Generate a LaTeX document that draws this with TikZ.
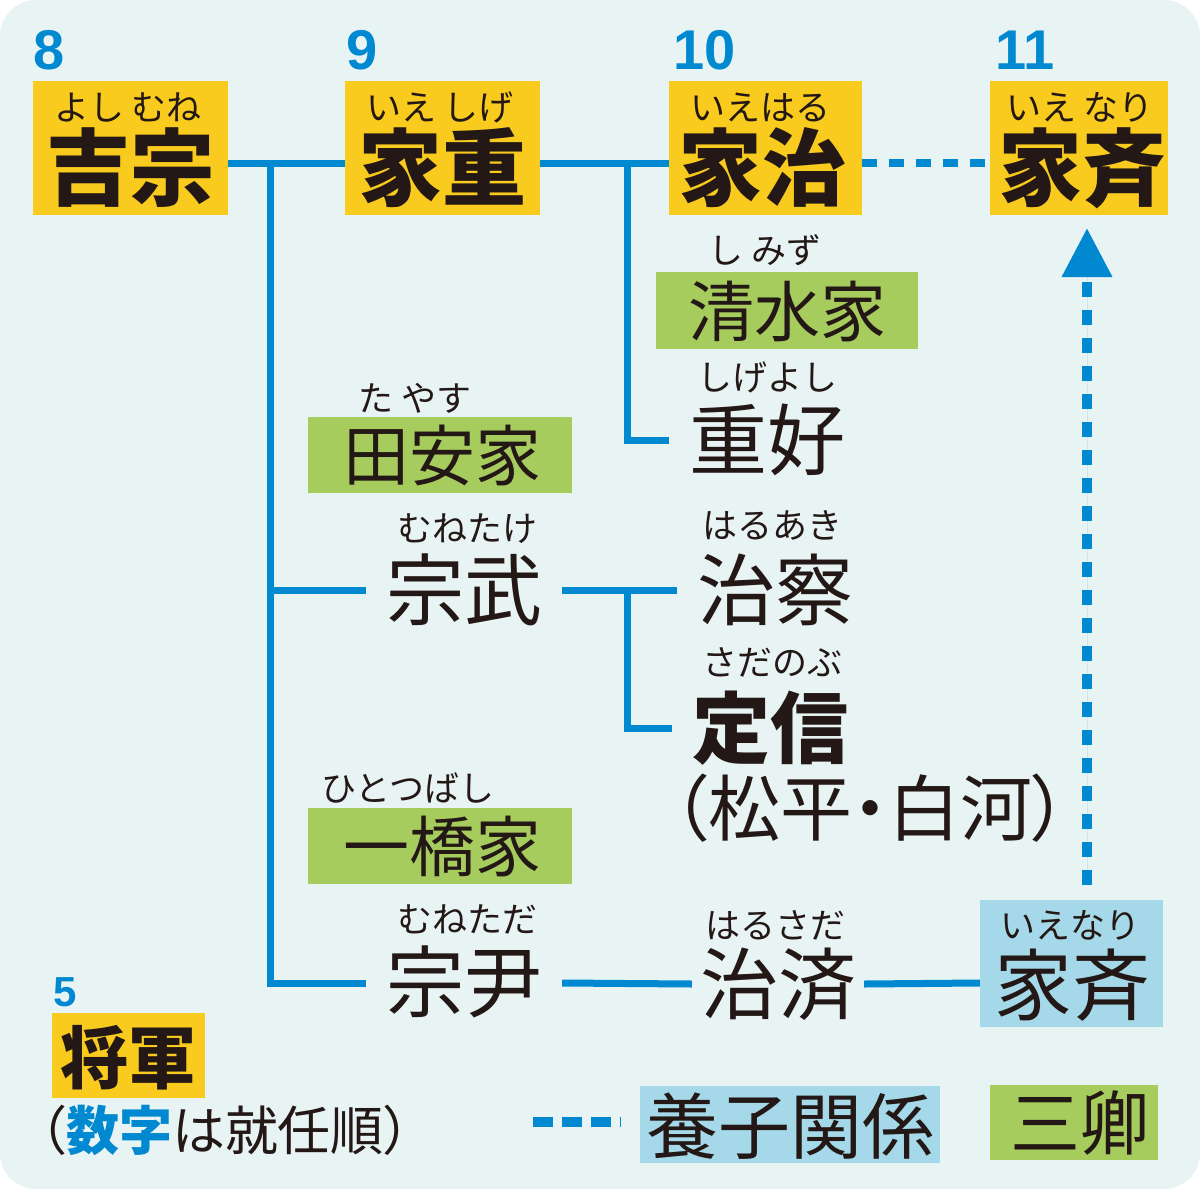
\documentclass[tikz,border=0pt]{standalone}
\usepackage{fontspec}
\usetikzlibrary{arrows.meta}
\newfontfamily\jp{Noto Sans CJK JP}
\newfontfamily\jpp{Noto Sans CJK JP}[RawFeature=+palt]
\newfontfamily\numf{Liberation Sans}
\newcommand\myfs[1]{\fontsize{#1}{#1}\selectfont}
\definecolor{cblue}{HTML}{0089D0}
\definecolor{cyel}{HTML}{F9CB1E}
\definecolor{cgreen}{HTML}{A7CC5E}
\definecolor{clb}{HTML}{A5D9E9}
\definecolor{cbg}{HTML}{E8F4F4}
\definecolor{ink}{HTML}{231815}
\begin{document}
\begin{tikzpicture}[x=1pt,y=-1pt,
  box/.style={inner sep=0pt, draw=none},
  lbl/.style={inner sep=0pt, text=ink},
  ruby/.style={inner sep=0pt, text=ink, font=\jp\myfs{35}},
  big/.style={inner sep=0pt, text=ink, font=\jp\bfseries\myfs{84}},
  nm/.style={inner ysep=0pt, inner xsep=20pt, text=ink, font=\jp\myfs{78}},
  house/.style={inner sep=0pt, text=ink, font=\jp\myfs{66}},
  numl/.style={inner sep=0pt, text=cblue, font=\numf\bfseries\myfs{56}},
  conn/.style={draw=cblue, line width=7pt},
  adopt/.style={draw=cblue, line width=9pt, dash pattern=on 15pt off 12pt}]
\useasboundingbox (0,0) rectangle (1200,1189);
\fill[white] (0,0) rectangle (1200,1189);
\fill[cbg, rounded corners=36pt] (0,0) rectangle (1200,1189);

% shogun boxes
\node[box, fill=cyel, minimum width=195pt, minimum height=134pt] (b-yoshimune) at (130.5,148) {};
\node[box, fill=cyel, minimum width=195pt, minimum height=134pt] (b-ieshige) at (442.5,148) {};
\node[box, fill=cyel, minimum width=193pt, minimum height=134pt] (b-ieharu) at (765.5,148) {};
\node[box, fill=cyel, minimum width=178pt, minimum height=134pt] (b-ienari) at (1079,148) {};

\node[numl] (n8) at (49,50) {8};
\node[numl] (n9) at (362,50) {9};
\node[numl] (n10) at (705,50) {10};
\node[numl] (n11) at (1025,50) {11};

\node[ruby] (r-yoshimune) at (128,107) {よし むね};
\node[ruby] (r-ieshige) at (440,107) {いえ しげ};
\node[ruby] (r-ieharu) at (760,107) {いえはる};
\node[ruby] (r-ienari) at (1080,107) {いえ なり};
\node[big] (yoshimune) at (130,168) {吉宗};
\node[big] (ieshige) at (442,168) {家重};
\node[big] (ieharu) at (762,168) {家治};
\node[big] (ienari) at (1082,168) {家斉};

% sankyo boxes
\node[box, fill=cgreen, minimum width=262pt, minimum height=77pt] (b-shimizu) at (787,310.5) {};
\node[box, fill=cgreen, minimum width=264pt, minimum height=76pt] (b-tayasu) at (440,455) {};
\node[box, fill=cgreen, minimum width=264pt, minimum height=76pt] (b-hitotsubashi) at (440,846) {};

\node[ruby] (r-shimizu) at (765,250) {し みず};
\node[house] (shimizu) at (787,312) {清水家};
\node[ruby] (r-shigeyoshi) at (767,377) {しげよし};
\node[nm] (shigeyoshi) at (767,440) {重好};

\node[ruby] (r-tayasu) at (415,398) {た やす};
\node[house] (tayasu) at (442,455) {田安家};
\node[ruby] (r-munetake) at (467,529) {むねたけ};
\node[nm] (munetake) at (464,590) {宗武};

\node[ruby] (r-haruaki) at (772,525) {はるあき};
\node[nm] (haruaki) at (775,590) {治察};
\node[ruby] (r-sadanobu) at (772,662) {さだのぶ};
\node[nm, font=\jp\bfseries\myfs{78}] (sadanobu) at (770,728) {定信};
\node[lbl, font=\jpp\myfs{72}] (matsudaira) at (870,808) {（松平・白河）};

\node[ruby] (r-hitotsubashi) at (408,788) {ひとつばし};
\node[house] (hitotsubashi) at (442,847) {一橋家};
\node[ruby] (r-munetada) at (467,919) {むねただ};
\node[nm] (munetada) at (464,982) {宗尹};
\node[ruby] (r-harusada) at (775,925) {はるさだ};
\node[nm, inner xsep=8pt] (harusada) at (778,984) {治済};

\node[box, fill=clb, minimum width=183pt, minimum height=127pt] (b-ienari2) at (1071.5,963.5) {};
\node[ruby] (r-ienari2) at (1070,925) {いえなり};
\node[lbl, font=\jp\myfs{78}] (ienari2) at (1072,985) {家斉};

% connectors
\draw[conn] ([yshift=-15pt]b-yoshimune.east) -- ([yshift=-15pt]b-ieshige.west);
\draw[conn] ([yshift=-15pt]b-ieshige.east) -- ([yshift=-15pt]b-ieharu.west);
\draw[adopt, line width=8pt] ([yshift=-15pt]b-ieharu.east) -- ([yshift=-15pt]b-ienari.west);
\coordinate (j1) at (270,159.5);
\draw[conn] (j1) |- (munetake.west);
\draw[conn] (j1) |- ([yshift=-1pt]munetada.west);
\coordinate (j2) at (627,159.5);
\draw[conn] (j2) |- (shigeyoshi.west);
\draw[conn] (munetake.east) -- (haruaki.west);
\coordinate (j3) at (627,590);
\draw[conn] (j3) |- (sadanobu.west);
\draw[conn] ([yshift=-1pt]munetada.east) -- (harusada.west);
\draw[conn] (harusada.east) -- ([yshift=-19.5pt]b-ienari2.west);
\coordinate (a0) at (1087,885);
\coordinate (a1) at (1087,228);
\draw[adopt, line width=10pt, dash pattern=on 15pt off 13pt, -{Triangle[width=48pt,length=49pt]}, fill=cblue] (a0) -- (a1);

% legend
\node[numl, font=\numf\bfseries\myfs{42}] (n5) at (65,992) {5};
\node[box, fill=cyel, minimum width=153pt, minimum height=85pt] (b-shogun) at (128.5,1055.5) {};
\node[lbl, font=\jp\bfseries\myfs{68}] (shogun) at (128,1058) {将軍};
\node[lbl, font=\jpp\myfs{53}] (note) at (225,1130) {（\textcolor{cblue}{\bfseries 数字}は就任順）};
\coordinate (l0) at (533,1122);
\coordinate (l1) at (621,1122);
\draw[adopt, line width=10pt, dash pattern=on 20pt off 9pt] (l0) -- (l1);
\node[box, fill=clb, minimum width=300pt, minimum height=77pt] (b-yoshi) at (790,1124.5) {};
\node[lbl, font=\jp\myfs{72}] (yoshi) at (790,1126) {養子関係};
\node[box, fill=cgreen, minimum width=168pt, minimum height=75pt] (b-sankyo) at (1074,1122.5) {};
\node[lbl, font=\jp\myfs{70}] (sankyo) at (1080,1123) {三卿};
\end{tikzpicture}
\end{document}
